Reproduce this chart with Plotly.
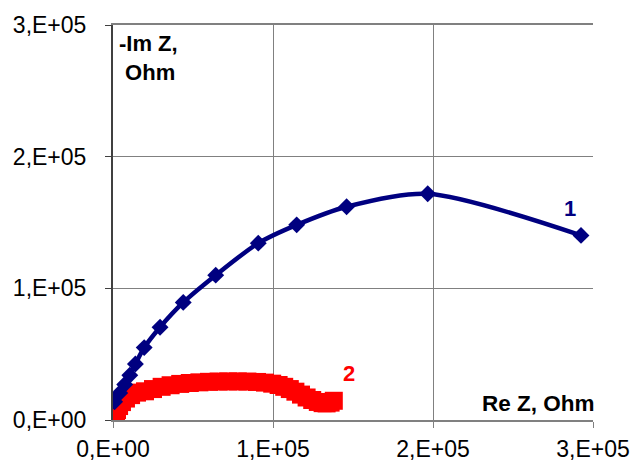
import plotly.graph_objects as go

# Nyquist plot: series 1 (blue diamonds) and series 2 (red squares), values in Ohm
re_z_1 = [1.0e3, 4.2e3, 7.3e3, 10.5e3, 14.0e3, 19.5e3, 29.4e3, 43.9e3, 64.2e3,
          90.8e3, 114.8e3, 146.0e3, 196.7e3, 292.5e3]
im_z_1 = [13.9e3, 20.5e3, 27.0e3, 34.0e3, 42.5e3, 55.0e3, 70.5e3, 89.3e3, 110.0e3,
          134.3e3, 148.2e3, 162.0e3, 171.8e3, 140.2e3]

re_z_2 = [1.9e3, 2.5e3, 3.8e3, 5.6e3, 8.1e3, 11.3e3, 15.0e3, 20.0e3, 25.0e3,
          30.4e3, 36.0e3, 42.0e3, 48.0e3, 54.0e3, 60.0e3, 66.0e3, 72.0e3, 78.0e3,
          84.0e3, 90.0e3, 95.0e3, 99.5e3, 103.5e3, 107.0e3, 110.5e3, 114.0e3,
          117.5e3, 121.0e3, 124.5e3, 128.0e3, 131.0e3, 133.5e3, 136.0e3, 138.0e3]
im_z_2 = [4.5e3, 7.6e3, 10.6e3, 13.6e3, 16.3e3, 18.9e3, 20.8e3, 21.8e3, 23.5e3,
          25.2e3, 26.4e3, 27.4e3, 28.1e3, 28.6e3, 29.0e3, 29.2e3, 29.3e3, 29.3e3,
          29.2e3, 28.9e3, 28.4e3, 27.6e3, 26.6e3, 25.2e3, 23.5e3, 21.5e3,
          19.3e3, 17.1e3, 15.2e3, 13.7e3, 12.8e3, 12.6e3, 13.2e3, 14.6e3]

tick_vals = [0, 1e5, 2e5, 3e5]
tick_text = ["0,E+00", "1,E+05", "2,E+05", "3,E+05"]

NAVY = "#000080"
RED = "#FF0000"
FONT = "Liberation Sans, Arial, sans-serif"

fig = go.Figure()

fig.add_trace(go.Scatter(
    x=re_z_2, y=im_z_2, mode="markers",
    marker=dict(symbol="square", size=18, color=RED, line=dict(width=0)),
    showlegend=False,
))

fig.add_trace(go.Scatter(
    x=re_z_1, y=im_z_1, mode="lines+markers",
    line=dict(color=NAVY, width=4.5, shape="spline", smoothing=0.8),
    marker=dict(symbol="diamond", size=13, color=NAVY),
    showlegend=False,
))

fig.update_layout(
    width=634, height=462,
    margin=dict(l=113, r=41, t=25, b=42),
    paper_bgcolor="white", plot_bgcolor="white",
    font=dict(family=FONT, size=23, color="black"),
    xaxis=dict(
        range=[0, 3e5], tickvals=tick_vals, ticktext=tick_text,
        showgrid=True, gridcolor="#808080", gridwidth=1,
        showline=True, linecolor="#808080", linewidth=2, mirror=True,
        ticks="outside", ticklen=6, tickcolor="#808080",
        zeroline=False, ticklabelstandoff=1, automargin=False,
    ),
    yaxis=dict(
        range=[0, 3e5], tickvals=tick_vals, ticktext=tick_text,
        showgrid=True, gridcolor="#808080", gridwidth=1,
        showline=True, linecolor="#404040", linewidth=2,
        ticks="outside", ticklen=6, tickcolor="#404040",
        zeroline=False, ticklabelstandoff=14, automargin=False,
    ),
    annotations=[
        dict(text="<b>-Im Z,<br> Ohm</b>", xref="paper", yref="paper",
             x=0.008, y=0.99, xanchor="left", yanchor="top", align="left",
             showarrow=False, font=dict(size=22, color="black")),
        dict(text="<b>Re Z, Ohm</b>", xref="paper", yref="paper",
             x=1.008, y=0.043, xanchor="right", yanchor="middle",
             showarrow=False, font=dict(size=22.5, color="black")),
        dict(text="<b>1</b>", x=285.6e3, y=160.6e3, showarrow=False,
             font=dict(size=22, color=NAVY)),
        dict(text="<b>2</b>", x=147.5e3, y=35.6e3, showarrow=False,
             font=dict(size=22, color=RED)),
    ],
)

fig.write_html("out.html")
